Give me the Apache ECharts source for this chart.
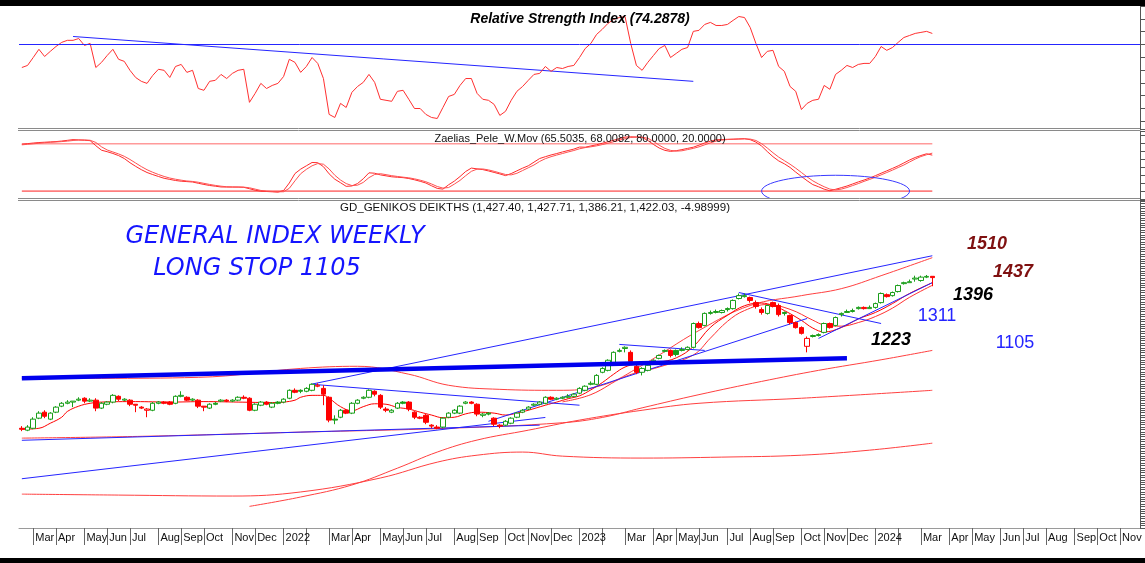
<!DOCTYPE html>
<html><head><meta charset="utf-8">
<script src="https://cdn.jsdelivr.net/npm/echarts@6/dist/echarts.min.js"></script>
<style>html,body{margin:0;padding:0;background:#fff;overflow:hidden}#c{width:1145px;height:563px}</style>
</head><body><div id="c"></div>
<script>
// ---------- categories / tick labels ----------
const WEEK_START_UTC = Date.UTC(2021, 1, 19);   // first weekly bar (Friday)
const WEEK_COUNT = 197;                          // weekly slots on the time axis (incl. future space)
const MONTH_NAMES = ['Jan','Feb','Mar','Apr','May','Jun','Jul','Aug','Sep','Oct','Nov','Dec'];
const dates = [];
for (let i = 0; i < WEEK_COUNT; i++) dates.push(new Date(WEEK_START_UTC + i * 7 * 86400000).toISOString().slice(0, 10));

// ---------- weekly OHLC (GD general index) ----------
const open = [795,787,795,837,862,833,862,887,899,904,912,920,908,912,879,895,904,928,912,912,
895,883,870,870,899,904,904,899,928,924,912,912,887,879,899,908,912,908,912,924,
920,870,891,904,883,904,904,920,953,953,949,953,970,961,924,833,841,870,858,899,
920,924,949,932,875,862,879,904,904,862,841,849,808,800,800,841,858,858,899,904,
895,849,858,837,808,808,816,841,862,875,891,895,899,924,916,920,924,928,941,953,
978,978,1028,1036,1069,1115,1127,1111,1053,1028,1036,1065,1086,1115,1119,1119,1119,1123,1132,1231,
1223,1273,1277,1277,1293,1293,1335,1343,1339,1318,1289,1273,1318,1306,1277,1264,1235,1214,1136,1177,
1181,1194,1231,1223,1268,1277,1281,1293,1298,1293,1298,1318,1351,1347,1364,1397,1401,1416,1410,1424,
1427.40];
const close = [791,800,833,858,845,858,883,899,904,908,916,908,912,879,899,904,932,916,916,895,
891,879,875,899,904,899,895,928,932,912,916,887,883,895,895,912,908,912,924,920,
870,895,904,895,899,899,916,953,945,949,961,978,974,937,829,829,870,858,899,912,
924,953,937,883,870,870,899,899,875,841,837,820,804,795,837,858,870,887,904,899,
854,854,854,812,804,824,837,858,870,883,895,904,924,916,920,924,928,937,961,970,
982,1015,1044,1078,1111,1119,1132,1073,1028,1044,1057,1078,1098,1119,1098,1102,1123,1132,1231,1214,
1273,1277,1281,1285,1289,1327,1347,1347,1327,1302,1277,1306,1302,1268,1273,1235,1214,1190,1169,1181,
1185,1231,1214,1256,1273,1281,1285,1298,1293,1298,1314,1356,1343,1360,1389,1401,1405,1420,1424,1427.02,
1422.03];
const low = [783,783,791,833,837,829,858,883,895,883,908,899,904,866,875,891,899,908,908,887,
862,875,841,866,895,895,891,895,924,908,908,879,866,875,891,904,904,904,908,916,
866,866,887,891,879,895,899,916,941,941,945,949,966,891,820,812,837,854,854,895,
916,920,928,875,862,858,875,895,866,833,833,812,795,791,795,837,854,854,895,895,
845,841,849,804,795,804,812,837,858,870,887,891,895,912,912,916,920,924,937,949,
974,974,1024,1032,1065,1111,1111,1065,1020,1015,1032,1061,1082,1111,1090,1094,1115,1119,1127,1210,
1219,1268,1273,1273,1281,1289,1331,1339,1318,1293,1268,1268,1298,1260,1264,1227,1210,1185,1111,1173,
1177,1190,1210,1219,1260,1277,1277,1289,1289,1293,1293,1314,1339,1343,1360,1393,1401,1405,1405,1420,
1386.21];
const high = [804,808,841,866,870,862,887,904,912,908,924,924,920,920,904,908,937,932,920,916,
895,887,879,904,908,908,908,932,949,928,920,916,887,899,904,916,916,916,928,932,
924,899,908,908,904,908,920,957,961,957,966,982,982,974,928,849,875,875,904,916,
928,957,953,937,883,875,904,908,908,866,845,854,812,808,841,862,875,891,908,908,
899,858,862,841,812,829,841,862,875,887,899,908,928,928,924,928,937,941,966,974,
990,1020,1049,1082,1115,1127,1136,1119,1069,1049,1061,1082,1102,1123,1123,1123,1132,1136,1235,1239,
1277,1285,1289,1289,1298,1331,1356,1356,1343,1327,1298,1310,1322,1314,1281,1268,1239,1219,1177,1185,
1190,1235,1235,1260,1277,1289,1293,1302,1302,1306,1318,1360,1356,1364,1393,1405,1414,1430,1430,1433,
1427.71];

// ---------- Relative Strength Index ----------
const rsi = [61.0,61.8,64.9,68.1,65.3,67.3,69.2,70.8,71.6,71.6,
72.3,69.6,70.4,61.0,63.0,65.7,68.1,64.2,63.4,59.9,
57.1,55.6,54.8,57.9,60.3,59.9,57.1,61.4,62.2,59.1,
59.9,52.8,52.1,55.6,56.0,58.3,56.7,58.7,59.9,60.3,
47.4,50.9,54.8,52.8,54.0,54.8,57.5,64.2,63.0,59.1,
61.4,64.9,62.6,56.7,42.7,41.5,47.0,45.4,51.3,53.6,
55.2,58.3,55.2,48.6,48.2,47.8,51.7,52.1,48.6,45.0,
45.0,42.7,41.5,41.1,45.4,49.7,50.5,54.0,56.7,56.7,
50.9,48.6,48.2,46.6,42.3,43.9,48.2,51.7,53.6,56.0,
58.3,58.7,61.4,59.5,61.0,60.6,61.4,61.8,64.9,68.4,
70.4,73.9,75.9,78.2,79.8,80.5,80.9,70.4,61.8,59.9,
63.0,65.7,68.4,69.6,64.9,66.5,68.1,68.8,75.1,75.5,
77.8,78.6,77.4,77.4,77.8,79.4,80.9,80.5,76.6,70.4,
64.9,67.3,67.7,61.4,59.5,53.6,51.7,44.6,47.0,48.2,
48.6,54.0,52.5,58.3,59.9,61.8,61.0,62.2,62.6,62.6,
65.3,69.2,67.7,68.8,70.8,72.7,73.5,74.3,74.7,75.1,
74.2878];
const rsiLevel = 70;
const rsiTrend = [[9,73.1],[118,55.6]];

// ---------- Zaelias_Pele_W.Mov ----------
const oscMain = [79.2,80.0,80.8,81.4,81.8,82.2,82.6,83.3,84.2,85.1,
84.7,84.3,83.8,77.4,71.7,69.8,67.6,64.9,61.2,55.9,
51.3,47.1,43.5,40.9,38.5,36.2,34.8,33.4,32.5,32.0,
31.5,29.9,28.4,27.1,26.2,25.2,25.1,25.1,25.1,24.8,
23.0,21.1,19.9,19.5,19.1,18.7,20.7,30.2,42.2,47.8,
52.0,56.2,55.9,50.9,41.8,35.0,30.6,26.0,26.5,29.6,
35.6,43.1,42.6,40.5,39.3,38.1,37.5,37.0,35.9,34.3,
32.4,30.2,26.7,23.4,22.5,28.0,32.6,38.4,44.8,49.1,
48.1,47.2,45.5,43.6,41.7,39.6,42.2,45.6,49.0,52.0,
56.6,61.2,63.5,65.7,67.5,69.5,71.3,73.1,75.7,75.5,
77.1,78.6,80.5,82.4,84.3,86.3,88.3,88.7,88.3,87.9,
84.0,79.0,74.5,71.5,70.2,71.1,72.5,74.0,75.5,78.1,
80.9,83.1,84.9,85.2,85.5,85.7,86.0,86.3,85.0,82.0,
77.0,70.0,63.5,58.2,54.5,49.9,44.0,38.5,33.1,28.2,
25.5,22.4,20.4,22.3,24.3,26.4,29.0,31.6,34.0,36.5,
39.5,42.6,45.6,48.7,51.9,55.6,59.3,62.5,65.0,67.2,
65.5035];
const oscSignal = [78.5,79.2,79.8,80.5,81.2,81.7,82.1,82.6,83.2,84.0,
84.6,84.7,84.3,81.5,76.0,72.0,69.5,67.0,64.0,60.0,
55.5,51.0,47.0,43.8,41.0,38.5,36.5,35.0,33.8,32.8,
32.2,31.2,29.8,28.4,27.2,26.2,25.5,25.2,25.1,25.0,
24.2,22.5,20.8,19.9,19.5,19.1,19.2,23.5,33.0,42.0,
47.5,52.0,54.8,54.0,48.0,40.0,34.0,29.5,27.0,27.5,
31.0,37.0,41.0,42.0,40.8,39.5,38.5,37.6,36.8,35.5,
33.8,31.8,29.0,25.8,23.8,24.5,28.8,33.5,39.5,45.0,
47.8,48.0,46.8,45.0,43.0,41.0,40.5,42.5,46.0,49.5,
53.0,57.5,61.0,63.5,65.6,67.5,69.5,71.3,73.5,75.0,
76.0,77.2,78.8,80.5,82.4,84.3,86.2,87.8,88.4,88.2,
86.8,83.0,78.0,74.0,71.5,70.5,71.0,72.5,74.0,76.0,
78.5,81.0,83.2,84.5,85.2,85.5,85.8,86.0,85.8,84.0,
80.0,74.5,68.5,63.0,58.5,54.0,49.0,43.5,38.0,33.0,
29.0,25.5,22.5,21.5,22.5,24.5,27.0,29.5,32.3,34.8,
37.5,40.5,43.5,46.5,49.8,53.0,56.8,60.5,63.7,66.0,
68.0082];
const oscLevels = [80, 20];
const oscEllipse = {week: 143, value: 20, halfWeeks: 12.8, halfValue: 20};

// ---------- overlays on price (week index, value) ----------
const maFast = [[0,791],[3,795],[5,816],[7,841],[8,865],[10,887],[12,899],[14,904],[20,906],[26,904],[32,906],[38,904],[44,902],[46,904],[48,912],[49,924],[51,932],[53,932],[54,920],[56,885],[58,868],[60,885],[62,897],[64,895],[66,882],[68,875],[70,862],[72,850],[74,839],[76,841],[78,855],[80,862],[83,858],[85,850],[87,858],[89,870],[92,891],[94,904],[96,918],[98,930],[100,955],[102,985],[104,1020],[106,1050],[108,1062],[110,1066],[112,1070],[115,1088],[118,1135],[121,1215],[124,1265],[127,1305],[130,1316],[132,1306],[134,1285],[137,1244],[139,1212],[141,1196],[144,1214],[147,1250],[150,1277],[153,1314],[156,1356],[160,1401]];
const maSlow = [[95,905],[100,935],[106,1010],[112,1050],[118,1100],[121,1170],[124,1240],[127,1285],[131,1310],[135,1290],[139,1245],[141,1225],[144,1220],[147,1235],[150,1260],[153,1295],[156,1340],[160,1390]];
const bandUpper = [[0,1003],[14,1003],[31,1007],[49,1044],[59,1053],[68,1020],[75,974],[84,957],[94,953],[102,974],[109,1057],[119,1202],[128,1306],[137,1347],[144,1376],[151,1430],[160,1505]];
const bandMid = [[0,754],[22,762],[49,779],[75,795],[95,818],[102,840],[109,880],[119,935],[130,990],[140,1036],[151,1080],[160,1119]];
const bandLower = [[0,521],[17,517],[37,513],[49,530],[63,588],[73,654],[80,683],[88,696],[95,679],[109,671],[123,675],[137,683],[149,704],[160,733]];
const bandInner = [[40,470],[49,509],[58,559],[66,629],[73,696],[80,746],[89,787],[98,829],[109,870],[119,899],[137,920],[160,953]];

const trendLines = [
  [[51,979],[160,1513]],
  [[0,745],[91,808]],
  [[0,585],[92,840]],
  [[82,824],[138,1252]],
  [[140,1169],[160,1401]],
  [[126,1360],[151,1231]],
  [[105,1144],[120,1119]],
  [[51,978],[98,891]]
];
const longStopLine = [[0,1003],[145,1086]];

// ---------- styles ----------
const GREEN = '#1a9e1a', RED = '#ff0000', BLUE = '#2525ff';
const FONT = "'Liberation Sans', Arial, sans-serif";

const candleData = open.map((o, i) => {
  const c = close[i];
  const up = i === 0 ? c >= o : c >= close[i - 1];
  const col = up ? GREEN : RED;
  const fill = c > o ? '#ffffff' : col;
  return {value: [o, c, low[i], high[i]], itemStyle: {color: fill, color0: fill, borderColor: col, borderColor0: col, borderWidth: 1}};
});

const pts = (arr) => arr.map(p => [dates[p[0]], p[1]]);
function lineSeries(arr, g, color, width, smooth, z) {
  return {type: 'line', xAxisIndex: g, yAxisIndex: g, data: pts(arr), symbol: 'none', smooth: smooth ? 0.4 : false,
    lineStyle: {color: color, width: width}, silent: true, z: z || 3};
}

const isMonthStart = (v) => +v.slice(8, 10) <= 7;
const fmtMonth = (v) => { const m = +v.slice(5, 7) - 1; if (m === 0) return v.slice(0, 4); if (m === 1) return ''; return MONTH_NAMES[m]; };

const grids = [
  {left: 19, right: 5, top: 6, height: 123},
  {left: 19, right: 5, top: 131, height: 68},
  {left: 19, right: 5, top: 200, height: 328}
];
const xAxes = grids.map((g, k) => ({
  type: 'category', gridIndex: k, data: dates, boundaryGap: true, show: k === 2,
  axisLine: {show: true, lineStyle: {color: '#9a9a9a', width: 1}},
  axisTick: {show: true, interval: (i, v) => isMonthStart(v), alignWithLabel: true, length: 17, lineStyle: {color: '#666'}},
  axisLabel: {show: true, interval: (i, v) => isMonthStart(v), formatter: fmtMonth, align: 'left', padding: [0, 0, 0, 2],
    margin: 4, fontFamily: FONT, fontSize: 11, color: '#111'},
  splitLine: {show: false}
}));
const yCommon = {type: 'value', position: 'right', scale: false,
  axisLine: {show: true, lineStyle: {color: '#555'}}, axisLabel: {show: false}, splitLine: {show: false},
  axisTick: {show: true, inside: false, length: 5, lineStyle: {color: '#555'}}};
const yAxes = [
  Object.assign({}, yCommon, {gridIndex: 0, min: 37, max: 85, splitNumber: 10}),
  Object.assign({}, yCommon, {gridIndex: 1, min: 10, max: 96, splitNumber: 9}),
  Object.assign({}, yCommon, {gridIndex: 2, min: 380, max: 1745, interval: 10, axisTick: {show: true, length: 5, lineStyle: {color: '#555'}}})
];

const series = [];
// RSI
series.push({type: 'line', xAxisIndex: 0, yAxisIndex: 0, data: rsi, symbol: 'none', lineStyle: {color: '#ff3030', width: 1}, silent: true, z: 4,
  markLine: {silent: true, symbol: 'none', label: {show: false}, lineStyle: {color: BLUE, width: 1, type: 'solid'}, data: [{yAxis: rsiLevel}]}});
series.push(lineSeries(rsiTrend, 0, BLUE, 1, false, 3));
// oscillator
series.push(lineSeries([[0, oscLevels[0]], [160, oscLevels[0]]], 1, '#ff9a9a', 1.5, false, 2));
series.push(lineSeries([[0, oscLevels[1]], [160, oscLevels[1]]], 1, '#ff2020', 1, false, 2));
series.push({type: 'line', xAxisIndex: 1, yAxisIndex: 1, data: oscMain, symbol: 'none', lineStyle: {color: '#ff2a2a', width: 1}, silent: true, z: 4});
series.push({type: 'line', xAxisIndex: 1, yAxisIndex: 1, data: oscSignal, symbol: 'none', lineStyle: {color: '#ff5050', width: 1}, silent: true, z: 4});
series.push({type: 'custom', xAxisIndex: 1, yAxisIndex: 1, clip: true, silent: true, z: 5,
  data: [[oscEllipse.week, oscEllipse.value]],
  renderItem: function (params, api) {
    const c = api.coord([api.value(0), api.value(1)]);
    const e = api.coord([api.value(0) + oscEllipse.halfWeeks, api.value(1) + oscEllipse.halfValue]);
    return {type: 'ellipse', shape: {cx: c[0], cy: c[1], rx: Math.abs(e[0] - c[0]), ry: Math.abs(c[1] - e[1])},
      style: {fill: 'none', stroke: '#3a3aff', lineWidth: 1}};
  }});
// price panel
series.push(lineSeries(bandUpper, 2, '#ff4040', 1, true, 2));
series.push(lineSeries(bandMid, 2, '#ff4040', 1, true, 2));
series.push(lineSeries(bandLower, 2, '#ff4040', 1, true, 2));
series.push(lineSeries(bandInner, 2, '#ff4040', 1, true, 2));
series.push(lineSeries(maSlow, 2, '#ff3030', 1, true, 3));
series.push(lineSeries(maFast, 2, '#ff0000', 1, true, 3));
trendLines.forEach(t => series.push(lineSeries(t, 2, BLUE, 1, false, 4)));
series.push({type: 'candlestick', xAxisIndex: 2, yAxisIndex: 2, data: candleData, barWidth: 5, silent: true, z: 5});
series.push(lineSeries(longStopLine, 2, '#0000ee', 4.5, false, 6));

const txt = (x, y, s, o) => ({type: 'text', left: x, top: y, silent: true, z: 100,
  style: Object.assign({text: s, fontFamily: FONT, fontSize: 12, fill: '#000'}, o || {})});
const hline = (y, x1, x2, color) => ({type: 'line', silent: true, z: 90, shape: {x1: x1, y1: y, x2: x2, y2: y}, style: {stroke: color, lineWidth: 1}});

const graphic = [
  {type: 'rect', silent: true, z: 95, shape: {x: 0, y: 0, width: 1145, height: 6}, style: {fill: '#000'}},
  {type: 'rect', silent: true, z: 95, shape: {x: 0, y: 558, width: 1145, height: 5}, style: {fill: '#000'}},
  hline(128.5, 18, 1140, '#8a8a8a'), hline(130.5, 18, 1140, '#8a8a8a'),
  hline(198.5, 18, 1140, '#8a8a8a'), hline(200.5, 18, 1140, '#8a8a8a'),
  {type: 'text', silent: true, z: 100, x: 580, y: 19, style: {text: 'Relative Strength Index (74.2878)', fontFamily: FONT, fontSize: 14, fontWeight: 'bold', fontStyle: 'italic', fill: '#000', align: 'center', verticalAlign: 'middle'}},
  {type: 'text', silent: true, z: 100, x: 580, y: 139, style: {text: 'Zaelias_Pele_W.Mov (65.5035, 68.0082, 80.0000, 20.0000)', fontFamily: FONT, fontSize: 11, fill: '#111', align: 'center', verticalAlign: 'middle'}},
  {type: 'text', silent: true, z: 100, x: 535, y: 208, style: {text: 'GD_GENIKOS DEIKTHS (1,427.40, 1,427.71, 1,386.21, 1,422.03, -4.98999)', fontFamily: FONT, fontSize: 11.5, fill: '#111', align: 'center', verticalAlign: 'middle'}},
  {type: 'text', silent: true, z: 100, x: 275, y: 237, style: {text: 'GENERAL INDEX WEEKLY', fontFamily: "'DejaVu Sans', sans-serif", fontSize: 24, fontStyle: 'italic', fontWeight: 'normal', fill: '#1515ff', align: 'center', verticalAlign: 'middle'}},
  {type: 'text', silent: true, z: 100, x: 257, y: 269, style: {text: 'LONG STOP 1105', fontFamily: "'DejaVu Sans', sans-serif", fontSize: 24, fontStyle: 'italic', fontWeight: 'normal', fill: '#1515ff', align: 'center', verticalAlign: 'middle'}},
  {type: 'text', silent: true, z: 100, x: 987, y: 244, style: {text: '1510', fontFamily: FONT, fontSize: 18, fontWeight: 'bold', fontStyle: 'italic', fill: '#7f1010', align: 'center', verticalAlign: 'middle'}},
  {type: 'text', silent: true, z: 100, x: 1013, y: 272, style: {text: '1437', fontFamily: FONT, fontSize: 18, fontWeight: 'bold', fontStyle: 'italic', fill: '#7f1010', align: 'center', verticalAlign: 'middle'}},
  {type: 'text', silent: true, z: 100, x: 973, y: 295, style: {text: '1396', fontFamily: FONT, fontSize: 18, fontWeight: 'bold', fontStyle: 'italic', fill: '#000', align: 'center', verticalAlign: 'middle'}},
  {type: 'text', silent: true, z: 100, x: 937, y: 316, style: {text: '1311', fontFamily: FONT, fontSize: 18, fill: '#2424ff', align: 'center', verticalAlign: 'middle'}},
  {type: 'text', silent: true, z: 100, x: 891, y: 340, style: {text: '1223', fontFamily: FONT, fontSize: 18, fontWeight: 'bold', fontStyle: 'italic', fill: '#000', align: 'center', verticalAlign: 'middle'}},
  {type: 'text', silent: true, z: 100, x: 1015, y: 343, style: {text: '1105', fontFamily: FONT, fontSize: 18, fill: '#2424ff', align: 'center', verticalAlign: 'middle'}}
];

const chart = echarts.init(document.getElementById('c'), null, {renderer: 'canvas'});
chart.setOption({animation: false, backgroundColor: '#ffffff', grid: grids, xAxis: xAxes, yAxis: yAxes, series: series, graphic: graphic});
</script>
</body></html>
